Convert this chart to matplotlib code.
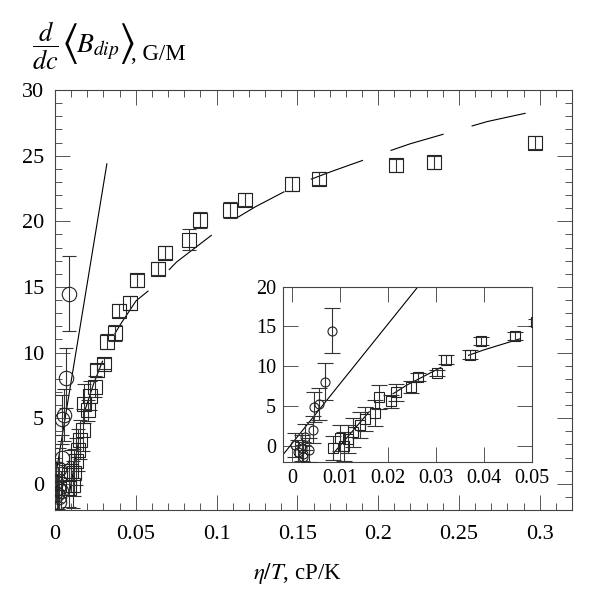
import matplotlib
matplotlib.use('Agg')
import matplotlib.pyplot as plt
import numpy as np
from matplotlib.ticker import MultipleLocator, FuncFormatter

plt.rcParams['font.family'] = ['Liberation Serif', 'DejaVu Serif']
plt.rcParams['mathtext.fontset'] = 'stix'
plt.rcParams['lines.scale_dashes'] = False

# ---- data ----
circ_x = [0.0006, 0.0013, 0.0020, 0.0023, 0.0023, 0.0027, 0.0036, 0.0043, 0.0046, 0.0057, 0.0069, 0.0084]
circ_y = [0.1, -0.75, -0.3, -1.0, -1.4, 1.1, -0.55, 2.0, 4.9, 5.25, 8.06, 14.48]
circ_err = [1.5, 1.5, 1.6, 1.5, 1.5, 1.6, 1.5, 1.7, 1.9, 2.0, 2.3, 2.85]

sq_x = [0.0085, 0.0099, 0.0109, 0.0117, 0.0128, 0.0142, 0.0152, 0.0173, 0.0182, 0.0206,
        0.0217, 0.0248, 0.0263, 0.0303, 0.0322, 0.0371, 0.0394, 0.0465, 0.0510, 0.0637,
        0.0682, 0.0827, 0.0898, 0.1084, 0.1176, 0.1465, 0.1637, 0.2111, 0.2347, 0.2972]
sq_y = [-0.3, 0.97, -0.08, 0.85, 1.7, 2.6, 3.36, 4.1, 6.1, 5.6,
        6.7, 7.39, 8.65, 9.15, 10.83, 11.46, 13.2, 13.77, 15.5, 16.4,
        17.6, 18.6, 20.1, 20.83, 21.65, 22.84, 23.25, 24.26, 24.5, 26.0]
sq_err = [1.5, 1.6, 1.8, 1.8, 1.8, 1.6, 1.5, 1.6, 1.5, 0.8,
          1.1, 0.8, 0.5, 0.4, 0.6, 0.6, 0.5, 0.5, 0.5, 0.5,
          0.5, 0.8, 0.6, 0.6, 0.5, 0.5, 0.5, 0.5, 0.5, 0.5]

# fitted curve through squares
curve_x = [0.0086, 0.0173, 0.0240, 0.0341, 0.0400, 0.0502, 0.0588, 0.0753, 0.105, 0.124,
           0.152, 0.1713, 0.2033, 0.2198, 0.2508, 0.2677, 0.2976]
curve_y = [-0.96, 5.13, 7.65, 10.8, 12.05, 13.94, 14.8, 16.9, 19.7, 21.1,
           22.9, 23.8, 25.2, 25.9, 27.0, 27.6, 28.4]

# straight fit through circles
line_slope = 750.0
line_icpt = 0.3
line_xrange = [-0.004, 0.0321]

main_xticks_major, main_xticks_minor = 0.05, 0.01
main_yticks_major, main_yticks_minor = 5, 1

fmt = FuncFormatter(lambda v, p: '%g' % round(v, 6))

fig = plt.figure(figsize=(6, 6), dpi=100)
px = lambda v: v / 600.0

ax = fig.add_axes([px(55), 1 - px(510), px(572 - 55), px(510 - 90)])
ins = fig.add_axes([px(283), 1 - px(461.7), px(531.7 - 283), px(461.7 - 286.7)])
ins.set_facecolor('white')

spine_c = '#444444'
tick_c = '#555555'
ecol = '#333333'

lx = np.array(line_xrange)
ly = line_slope * lx + line_icpt


def draw(a, msq, mci, cap, lw):
    a.plot(lx, ly, color='black', lw=0.8, zorder=2)
    a.plot(curve_x, curve_y, color='black', lw=0.8, linestyle=(0, (40, 21)), zorder=2)
    a.errorbar(sq_x, sq_y, yerr=sq_err, fmt='none', ecolor=ecol, elinewidth=lw,
               capsize=cap, capthick=lw, zorder=3)
    a.errorbar(circ_x, circ_y, yerr=circ_err, fmt='none', ecolor=ecol, elinewidth=lw,
               capsize=cap, capthick=lw, zorder=3)
    a.plot(sq_x, sq_y, 's', ms=msq, mfc='none', mec='#222222', mew=0.8, zorder=4)
    a.plot(circ_x, circ_y, 'o', ms=mci, mfc='none', mec='#222222', mew=0.8, zorder=4)
    for s in a.spines.values():
        s.set_color(spine_c)
        s.set_linewidth(0.8)


draw(ax, 9.7, 10.4, 5, 0.8)
ax.set_xlim(0, 0.32)
ax.set_ylim(-2, 30)
ax.xaxis.set_major_locator(MultipleLocator(main_xticks_major))
ax.xaxis.set_minor_locator(MultipleLocator(main_xticks_minor))
ax.yaxis.set_major_locator(MultipleLocator(main_yticks_major))
ax.yaxis.set_minor_locator(MultipleLocator(main_yticks_minor))
ax.set_xticks(np.arange(0, 0.3001, 0.05))
ax.xaxis.set_major_formatter(fmt)
ax.yaxis.set_major_formatter(fmt)
ax.tick_params(which='both', direction='in', top=True, right=True, color=tick_c, width=0.7)
ax.tick_params(which='major', length=10.5)
ax.tick_params(which='minor', length=5.2)
ax.tick_params(axis='x', which='major', pad=11, labelsize=16)
ax.tick_params(axis='y', which='major', pad=8, labelsize=16)

draw(ins, 7.2, 6.5, 5.5, 0.8)
ins.set_xlim(-0.0019, 0.05)
ins.set_ylim(-2, 20)
ins.set_xticks(np.arange(0, 0.0501, 0.01))
ins.set_yticks(np.arange(0, 20.1, 5))
ins.xaxis.set_major_formatter(fmt)
ins.yaxis.set_major_formatter(fmt)
ins.tick_params(which='major', direction='in', top=True, right=True, color=tick_c, width=0.7,
                length=10.5, labelsize=14.5)
ins.tick_params(axis='x', pad=5.5)
ins.tick_params(axis='y', pad=5)

# axis labels
fig.text(px(297), 1 - px(574), r'$\eta/T$, cP/K', fontsize=16.5, ha='center', va='center')
fig.text(px(45), 1 - px(46), r'$\dfrac{d}{dc}$', fontsize=19, ha='center', va='center')
fig.text(px(69), 1 - px(43), r'$\langle$', fontsize=32, ha='center', va='center')
fig.text(px(76), 1 - px(52), r'$B_{dip}$', fontsize=20, ha='left', va='baseline')
fig.text(px(126), 1 - px(43), r'$\rangle$', fontsize=32, ha='center', va='center')
fig.text(px(131), 1 - px(60), ', G/M', fontsize=16.5, ha='left', va='baseline')

fig.savefig('out.png', dpi=100)
